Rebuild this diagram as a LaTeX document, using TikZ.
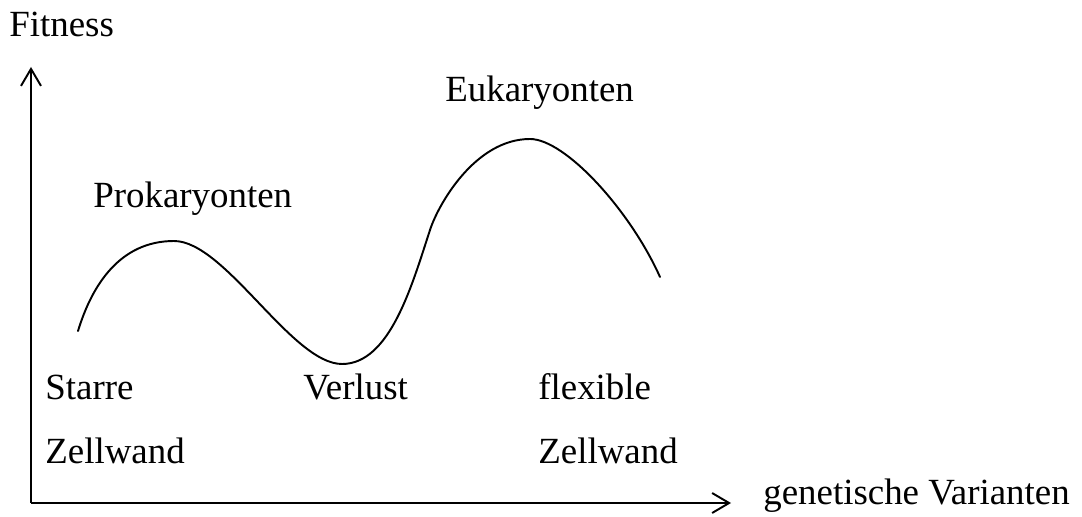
\documentclass[tikz,border=0pt]{standalone}
\usepackage{fontspec}
\setmainfont{Liberation Serif}
\usetikzlibrary{arrows.meta}

\begin{document}
\begin{tikzpicture}[
    x=0.02cm, y=-0.02cm,
    every node/.style={font=\fontsize{21}{25}\selectfont, inner sep=0pt, anchor=base west},
    axis/.style={line width=1.1pt, -{Straight Barb[length=3.4mm, width=4mm, line width=1.1pt]}},
    curve/.style={line width=1.1pt, line cap=round}
  ]
    \useasboundingbox (0,0) rectangle (1082,517);

    % Achsen
    \coordinate (origin) at (31,503);
    \coordinate (ytip) at (31,67);
    \coordinate (xtip) at (731,503);
    \draw[axis] (origin) -- (ytip);
    \draw[axis] (origin) -- (xtip);

    % Achsenbeschriftung
    \node (fitness) at (9,37) {Fitness};
    \node (varianten) at (763,504) {genetische Varianten};

    % Fitnesslandschaft
    \coordinate (start) at (78,331);
    \coordinate (gipfel1) at (174,241);
    \coordinate (tal) at (342,364);
    \coordinate (hang) at (430,230);
    \coordinate (gipfel2) at (530,139);
    \coordinate (ende) at (660,277);
    \draw[curve] (start) .. controls (92,285) and (120,241) .. (gipfel1)
      .. controls (225,241) and (292,364) .. (tal)
      .. controls (390,364) and (412,285) .. (hang)
      .. controls (438,205) and (475,139) .. (gipfel2)
      .. controls (565,139) and (630,210) .. (ende);

    % Beschriftungen
    \node (prok) at (93,207) {Prokaryonten};
    \node (euk) at (445,102) {Eukaryonten};
    \node (starre) at (45,399) {Starre};
    \node (zw1) at (45,463) {Zellwand};
    \node (verlust) at (303,399) {Verlust};
    \node (flex) at (538,399) {flexible};
    \node (zw2) at (538,463) {Zellwand};
\end{tikzpicture}
\end{document}
